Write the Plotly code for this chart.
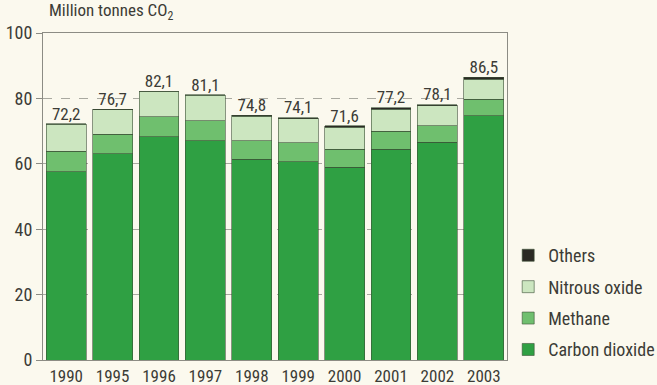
import plotly.graph_objects as go

years = ["1990", "1995", "1996", "1997", "1998", "1999", "2000", "2001", "2002", "2003"]
carbon_dioxide = [57.6, 63.0, 68.3, 67.1, 61.4, 60.6, 58.9, 64.5, 66.6, 74.7]
methane = [6.3, 6.0, 6.1, 6.1, 5.6, 5.9, 5.5, 5.5, 5.0, 5.0]
nitrous_oxide = [8.2, 7.6, 7.6, 7.8, 7.5, 7.3, 6.8, 6.7, 6.1, 6.2]
others = [0.1, 0.1, 0.1, 0.1, 0.3, 0.3, 0.4, 0.5, 0.4, 0.6]
totals = [72.2, 76.7, 82.1, 81.1, 74.8, 74.1, 71.6, 77.2, 78.1, 86.5]
total_labels = ["72,2", "76,7", "82,1", "81,1", "74,8", "74,1", "71,6", "77,2", "78,1", "86,5"]

FONT = "Liberation Sans Narrow, Roboto Condensed, Arial Narrow, sans-serif"
TEXT = "#3c3c36"
AXIS = "#8c8c84"
BG = "#fbf9ee"
EDGE = "rgba(60,80,55,0.75)"

# (name, values, colour, legend position from top)
series = [
    ("Carbon dioxide", carbon_dioxide, "#2fa043", 4),
    ("Methane", methane, "#6fbf6e", 3),
    ("Nitrous oxide", nitrous_oxide, "#cce6c0", 2),
    ("Others", others, "#2b2a24", 1),
]

fig = go.Figure()
for name, vals, color, rank in series:
    fig.add_trace(go.Bar(
        x=years, y=vals, name=name, legendgroup=name, legendrank=rank,
        marker=dict(color=color, line=dict(color=EDGE, width=0.8)),
        hoverinfo="x+y+name",
    ))

# value labels above each stacked bar
fig.add_trace(go.Scatter(
    x=years, y=totals, text=total_labels, mode="text",
    textposition="top center", showlegend=False, hoverinfo="skip",
    textfont=dict(family=FONT, size=17, color=TEXT),
))

fig.add_annotation(xref="paper", yref="paper", x=0.008, y=1.025,
                   xanchor="left", yanchor="bottom",
                   text="Million tonnes CO<sub>2</sub>", showarrow=False,
                   font=dict(family=FONT, size=17, color=TEXT))

fig.update_layout(
    barmode="stack",
    bargap=0.14,
    width=657, height=385,
    margin=dict(l=43, r=150, t=33, b=25),
    paper_bgcolor=BG, plot_bgcolor=BG,
    font=dict(family=FONT, size=16, color=TEXT),
    legend=dict(xref="container", yref="container",
                x=0.7735, y=0.044, xanchor="left", yanchor="bottom",
                traceorder="grouped", tracegroupgap=5,
                font=dict(family=FONT, size=18, color=TEXT),
                bgcolor="rgba(0,0,0,0)", itemwidth=30),
    showlegend=True,
    xaxis=dict(type="category", categoryorder="array", categoryarray=years,
               range=[-0.5, 9.5]),
)
fig.update_xaxes(showline=True, mirror=True, linecolor=AXIS,
                 linewidth=1, ticks="", showgrid=False, ticklabelstandoff=1,
                 automargin=False,
                 tickfont=dict(family=FONT, size=17, color=TEXT))
fig.update_yaxes(range=[0, 100], dtick=20, showline=True, mirror=True,
                 linecolor=AXIS, linewidth=1, ticks="outside", ticklen=6,
                 tickcolor=AXIS, showgrid=True, gridcolor="#a9a9a0",
                 griddash="dash", gridwidth=1, zeroline=False,
                 automargin=False,
                 tickfont=dict(family=FONT, size=18, color=TEXT))

fig.write_html("out.html")
